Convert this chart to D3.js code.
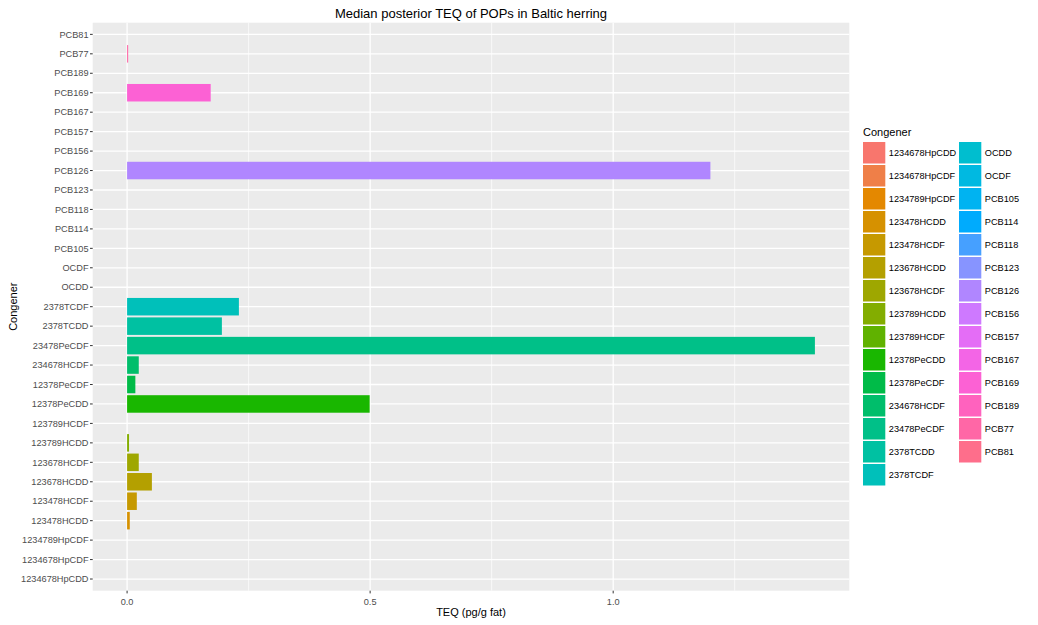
<!DOCTYPE html>
<html>
<head>
<meta charset="utf-8">
<script src="https://cdn.jsdelivr.net/npm/d3@7"></script>
<style>
  html, body { margin: 0; padding: 0; background: #fff; }
  svg { display: block; font-family: "Liberation Sans", Arial, sans-serif; }
</style>
</head>
<body>
<svg id="chart" width="1038" height="625"></svg>
<script>
// ---- data ----
const categories = [
  "1234678HpCDD", "1234678HpCDF", "1234789HpCDF", "123478HCDD", "123478HCDF",
  "123678HCDD", "123678HCDF", "123789HCDD", "123789HCDF", "12378PeCDD",
  "12378PeCDF", "234678HCDF", "23478PeCDF", "2378TCDD", "2378TCDF",
  "OCDD", "OCDF", "PCB105", "PCB114", "PCB118", "PCB123", "PCB126",
  "PCB156", "PCB157", "PCB167", "PCB169", "PCB189", "PCB77", "PCB81"
];
const teqValues = [
  0, 0, 0, 0.0055, 0.020,
  0.051, 0.024, 0.004, 0, 0.499,
  0.017, 0.024, 1.415, 0.195, 0.230,
  0, 0, 0, 0, 0, 0, 1.200,
  0, 0, 0, 0.172, 0, 0.0022, 0
];
const xTicks = [0, 0.5, 1.0];
const xMinorTicks = [0.25, 0.75, 1.25];
const titleText = "Median posterior TEQ of POPs in Baltic herring";
const xLabel = "TEQ (pg/g fat)";
const yLabel = "Congener";
const legendTitle = "Congener";

// ---- ggplot hue palette (polar LUV) ----
function hclLuv(h, c, l) {
  const Xn = 95.047, Yn = 100.0, Zn = 108.883;
  const un = 4 * Xn / (Xn + 15 * Yn + 3 * Zn);
  const vn = 9 * Yn / (Xn + 15 * Yn + 3 * Zn);
  const hr = h * Math.PI / 180;
  const U = c * Math.cos(hr), V = c * Math.sin(hr);
  const Y = l > 8 ? Yn * Math.pow((l + 16) / 116, 3) : Yn * l / 903.3;
  const up = U / (13 * l) + un, vp = V / (13 * l) + vn;
  const X = 9.0 * Y * up / (4 * vp);
  const Z = -X / 3 - 5 * Y + 3 * Y / vp;
  const x = X / 100, y = Y / 100, z = Z / 100;
  let r = 3.240479 * x - 1.537150 * y - 0.498535 * z;
  let g = -0.969256 * x + 1.875992 * y + 0.041556 * z;
  let b = 0.055648 * x - 0.204043 * y + 1.057311 * z;
  const gam = t => t > 0.00304 ? 1.055 * Math.pow(t, 1 / 2.4) - 0.055 : 12.92 * t;
  const cl = t => Math.max(0, Math.min(255, Math.round(255 * gam(t))));
  return d3.rgb(cl(r), cl(g), cl(b)).formatHex();
}
const n = categories.length;
const palette = categories.map((_, i) => hclLuv(15 + 360 * i / n, 100, 65));
const color = d3.scaleOrdinal().domain(categories).range(palette);

// ---- layout ----
const svg = d3.select("#chart");
const panel = { left: 92.7, right: 849.3, top: 22.7, bottom: 590.7 };

const xMax = d3.max(teqValues);
const xExp = xMax * 0.05;
const x = d3.scaleLinear().domain([0 - xExp, xMax + xExp]).range([panel.left, panel.right]);

// discrete y with 0.6 expansion each side
const yIdx = d3.scaleLinear().domain([-0.6, n - 1 + 0.6]).range([panel.bottom, panel.top]);
const yPos = c => yIdx(categories.indexOf(c));
const unitH = Math.abs(yIdx(1) - yIdx(0));

// panel background
svg.append("rect")
  .attr("x", panel.left).attr("y", panel.top)
  .attr("width", panel.right - panel.left).attr("height", panel.bottom - panel.top)
  .attr("fill", "#EBEBEB");

// minor vertical grid
svg.append("g").selectAll("line").data(xMinorTicks).join("line")
  .attr("x1", d => x(d)).attr("x2", d => x(d))
  .attr("y1", panel.top).attr("y2", panel.bottom)
  .attr("stroke", "#fff").attr("stroke-width", 0.7);

// major vertical grid
svg.append("g").selectAll("line").data(xTicks).join("line")
  .attr("x1", d => x(d)).attr("x2", d => x(d))
  .attr("y1", panel.top).attr("y2", panel.bottom)
  .attr("stroke", "#fff").attr("stroke-width", 1.3);

// horizontal grid (major at categories)
svg.append("g").selectAll("line").data(categories).join("line")
  .attr("x1", panel.left).attr("x2", panel.right)
  .attr("y1", d => yPos(d)).attr("y2", d => yPos(d))
  .attr("stroke", "#fff").attr("stroke-width", 1.3);

// bars
const barH = unitH * 0.9;
svg.append("g").selectAll("rect").data(categories.map((c, i) => ({ c, v: teqValues[i] })))
  .join("rect")
  .attr("x", d => x(Math.min(0, d.v)))
  .attr("y", d => yPos(d.c) - barH / 2)
  .attr("width", d => Math.abs(x(d.v) - x(0)))
  .attr("height", barH)
  .attr("fill", d => color(d.c));

// y axis
const yAxisG = svg.append("g");
categories.forEach(c => {
  const yy = yPos(c);
  yAxisG.append("line")
    .attr("x1", panel.left - 2.7).attr("x2", panel.left)
    .attr("y1", yy).attr("y2", yy)
    .attr("stroke", "#333333").attr("stroke-width", 1);
  yAxisG.append("text")
    .attr("x", panel.left - 4.2).attr("y", yy)
    .attr("dy", "0.35em")
    .attr("text-anchor", "end")
    .attr("font-size", "9.2px")
    .attr("fill", "#4D4D4D")
    .text(c);
});

// x axis
const xAxisG = svg.append("g");
xTicks.forEach(t => {
  xAxisG.append("line")
    .attr("x1", x(t)).attr("x2", x(t))
    .attr("y1", panel.bottom).attr("y2", panel.bottom + 2.7)
    .attr("stroke", "#333333").attr("stroke-width", 1);
  xAxisG.append("text")
    .attr("x", x(t)).attr("y", panel.bottom + 14.3)
    .attr("text-anchor", "middle")
    .attr("font-size", "9.2px")
    .attr("fill", "#4D4D4D")
    .text(d3.format(".1f")(t));
});

// titles
const cx = (panel.left + panel.right) / 2;
svg.append("text")
  .attr("x", cx).attr("y", 18.3)
  .attr("text-anchor", "middle")
  .attr("font-size", "13px")
  .attr("fill", "#000")
  .text(titleText);

svg.append("text")
  .attr("x", cx).attr("y", 616)
  .attr("text-anchor", "middle")
  .attr("font-size", "11px")
  .attr("fill", "#000")
  .text(xLabel);

svg.append("text")
  .attr("transform", `translate(16.5, ${(panel.top + panel.bottom) / 2}) rotate(-90)`)
  .attr("text-anchor", "middle")
  .attr("font-size", "11px")
  .attr("fill", "#000")
  .text(yLabel);

// legend
const legX = 863, legTop = 142, pitch = 23, keyW = 22.3, keyH = 21.5, colGap = 96;
const perCol = Math.ceil(n / 2);
const leg = svg.append("g");
leg.append("text")
  .attr("x", legX).attr("y", 136)
  .attr("font-size", "11px")
  .attr("fill", "#000")
  .text(legendTitle);
categories.forEach((c, i) => {
  const col = Math.floor(i / perCol), row = i % perCol;
  const kx = legX + col * colGap, ky = legTop + row * pitch;
  leg.append("rect")
    .attr("x", kx).attr("y", ky)
    .attr("width", keyW).attr("height", keyH)
    .attr("fill", color(c));
  leg.append("text")
    .attr("x", kx + keyW + 3.5).attr("y", ky + keyH / 2)
    .attr("dy", "0.35em")
    .attr("font-size", "9.2px")
    .attr("fill", "#000")
    .text(c);
});
</script>
</body>
</html>
